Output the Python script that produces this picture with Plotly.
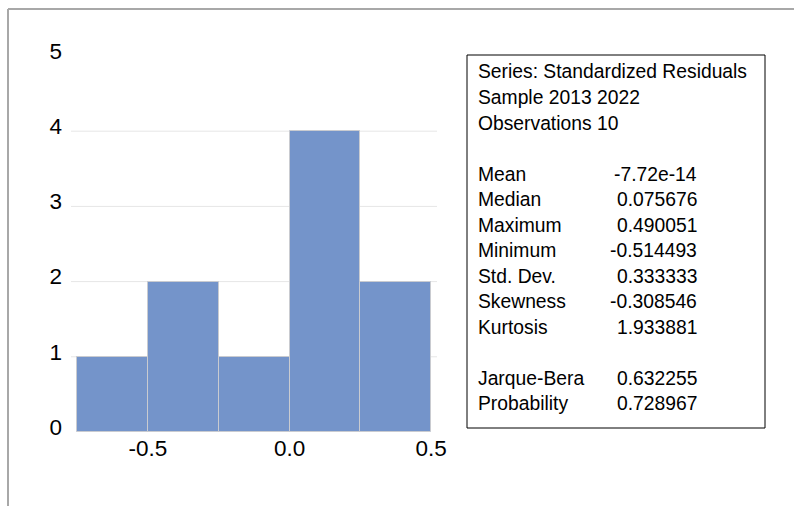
import plotly.graph_objects as go

# Histogram of standardized residuals (bin left edges and counts)
bin_left = [-0.75, -0.5, -0.25, 0.0, 0.25]
bin_width = 0.25
counts = [1, 2, 1, 4, 2]

x_ticks = [-0.5, 0.0, 0.5]
x_tick_text = ["-0.5", "0.0", "0.5"]
y_ticks = [0, 1, 2, 3, 4, 5]

# Summary statistics panel
stat_header = ["Series: Standardized Residuals", "Sample 2013 2022", "Observations 10"]
stat_names = ["Mean", "Median", "Maximum", "Minimum", "Std. Dev.", "Skewness", "Kurtosis"]
stat_values = ["-7.72e-14", "0.075676", "0.490051", "-0.514493", "0.333333", "-0.308546", "1.933881"]
test_names = ["Jarque-Bera", "Probability"]
test_values = ["0.632255", "0.728967"]

W, H = 794, 506
ML, MR, MT, MB = 71, 357, 56, 74
FONT = "Liberation Sans, Arial, Helvetica, sans-serif"

fig = go.Figure()
fig.add_trace(go.Bar(
    x=[b + bin_width / 2 for b in bin_left],
    y=counts,
    width=bin_width,
    marker=dict(color="#7494ca", line=dict(color="#c9cbd0", width=1)),
    hoverinfo="x+y",
))


def px_x(p):
    return (p - ML) / (W - ML - MR)


def px_y(p):
    return 1 - (p - MT) / (H - MT - MB)


shapes = []
# horizontal grid lines at the inner ticks
for v in y_ticks[1:-1]:
    shapes.append(dict(type="line", xref="paper", yref="y", x0=0, x1=1, y0=v, y1=v,
                       line=dict(color="#e6e6e6", width=1), layer="below"))
# outer frame (top and left edges)
shapes.append(dict(type="line", xref="paper", yref="paper",
                   x0=px_x(8), x1=px_x(W + 5), y0=px_y(9), y1=px_y(9),
                   line=dict(color="#a8a8a8", width=2)))
shapes.append(dict(type="line", xref="paper", yref="paper",
                   x0=px_x(8), x1=px_x(8), y0=px_y(9), y1=px_y(H + 5),
                   line=dict(color="#a8a8a8", width=2)))
# statistics box
shapes.append(dict(type="rect", xref="paper", yref="paper",
                   x0=px_x(467), x1=px_x(765), y0=px_y(55), y1=px_y(428),
                   line=dict(color="#000000", width=1), fillcolor="rgba(0,0,0,0)"))

annotations = []
rows = ([(t, None) for t in stat_header] + [(None, None)]
        + list(zip(stat_names, stat_values)) + [(None, None)]
        + list(zip(test_names, test_values)))
line_h = 25.5
y0 = 72
for i, (name, val) in enumerate(rows):
    yc = px_y(y0 + i * line_h)
    if name:
        annotations.append(dict(xref="paper", yref="paper", x=px_x(476), y=yc,
                                xanchor="left", yanchor="middle", text=name, showarrow=False,
                                font=dict(family=FONT, size=19.3, color="#000000")))
    if val:
        annotations.append(dict(xref="paper", yref="paper", x=px_x(699), y=yc,
                                xanchor="right", yanchor="middle", text=val, showarrow=False,
                                font=dict(family=FONT, size=19.3, color="#000000")))

fig.update_layout(
    width=W, height=H,
    margin=dict(l=ML, r=MR, t=MT, b=MB, pad=0),
    paper_bgcolor="white", plot_bgcolor="white",
    showlegend=False,
    bargap=0,
    shapes=shapes,
    annotations=annotations,
    font=dict(family=FONT, size=22, color="#000000"),
    xaxis=dict(range=[-0.772, 0.521], tickvals=x_ticks, ticktext=x_tick_text,
               showgrid=False, zeroline=False, showline=False, ticks="",
               ticklabelstandoff=0, tickfont=dict(size=22.5)),
    yaxis=dict(range=[0, 5], tickvals=y_ticks, showgrid=False, zeroline=False,
               showline=False, ticks="", ticklabelstandoff=8, ticklabelshift=-5,
               tickfont=dict(size=22.5)),
)

fig.write_html("out.html")
